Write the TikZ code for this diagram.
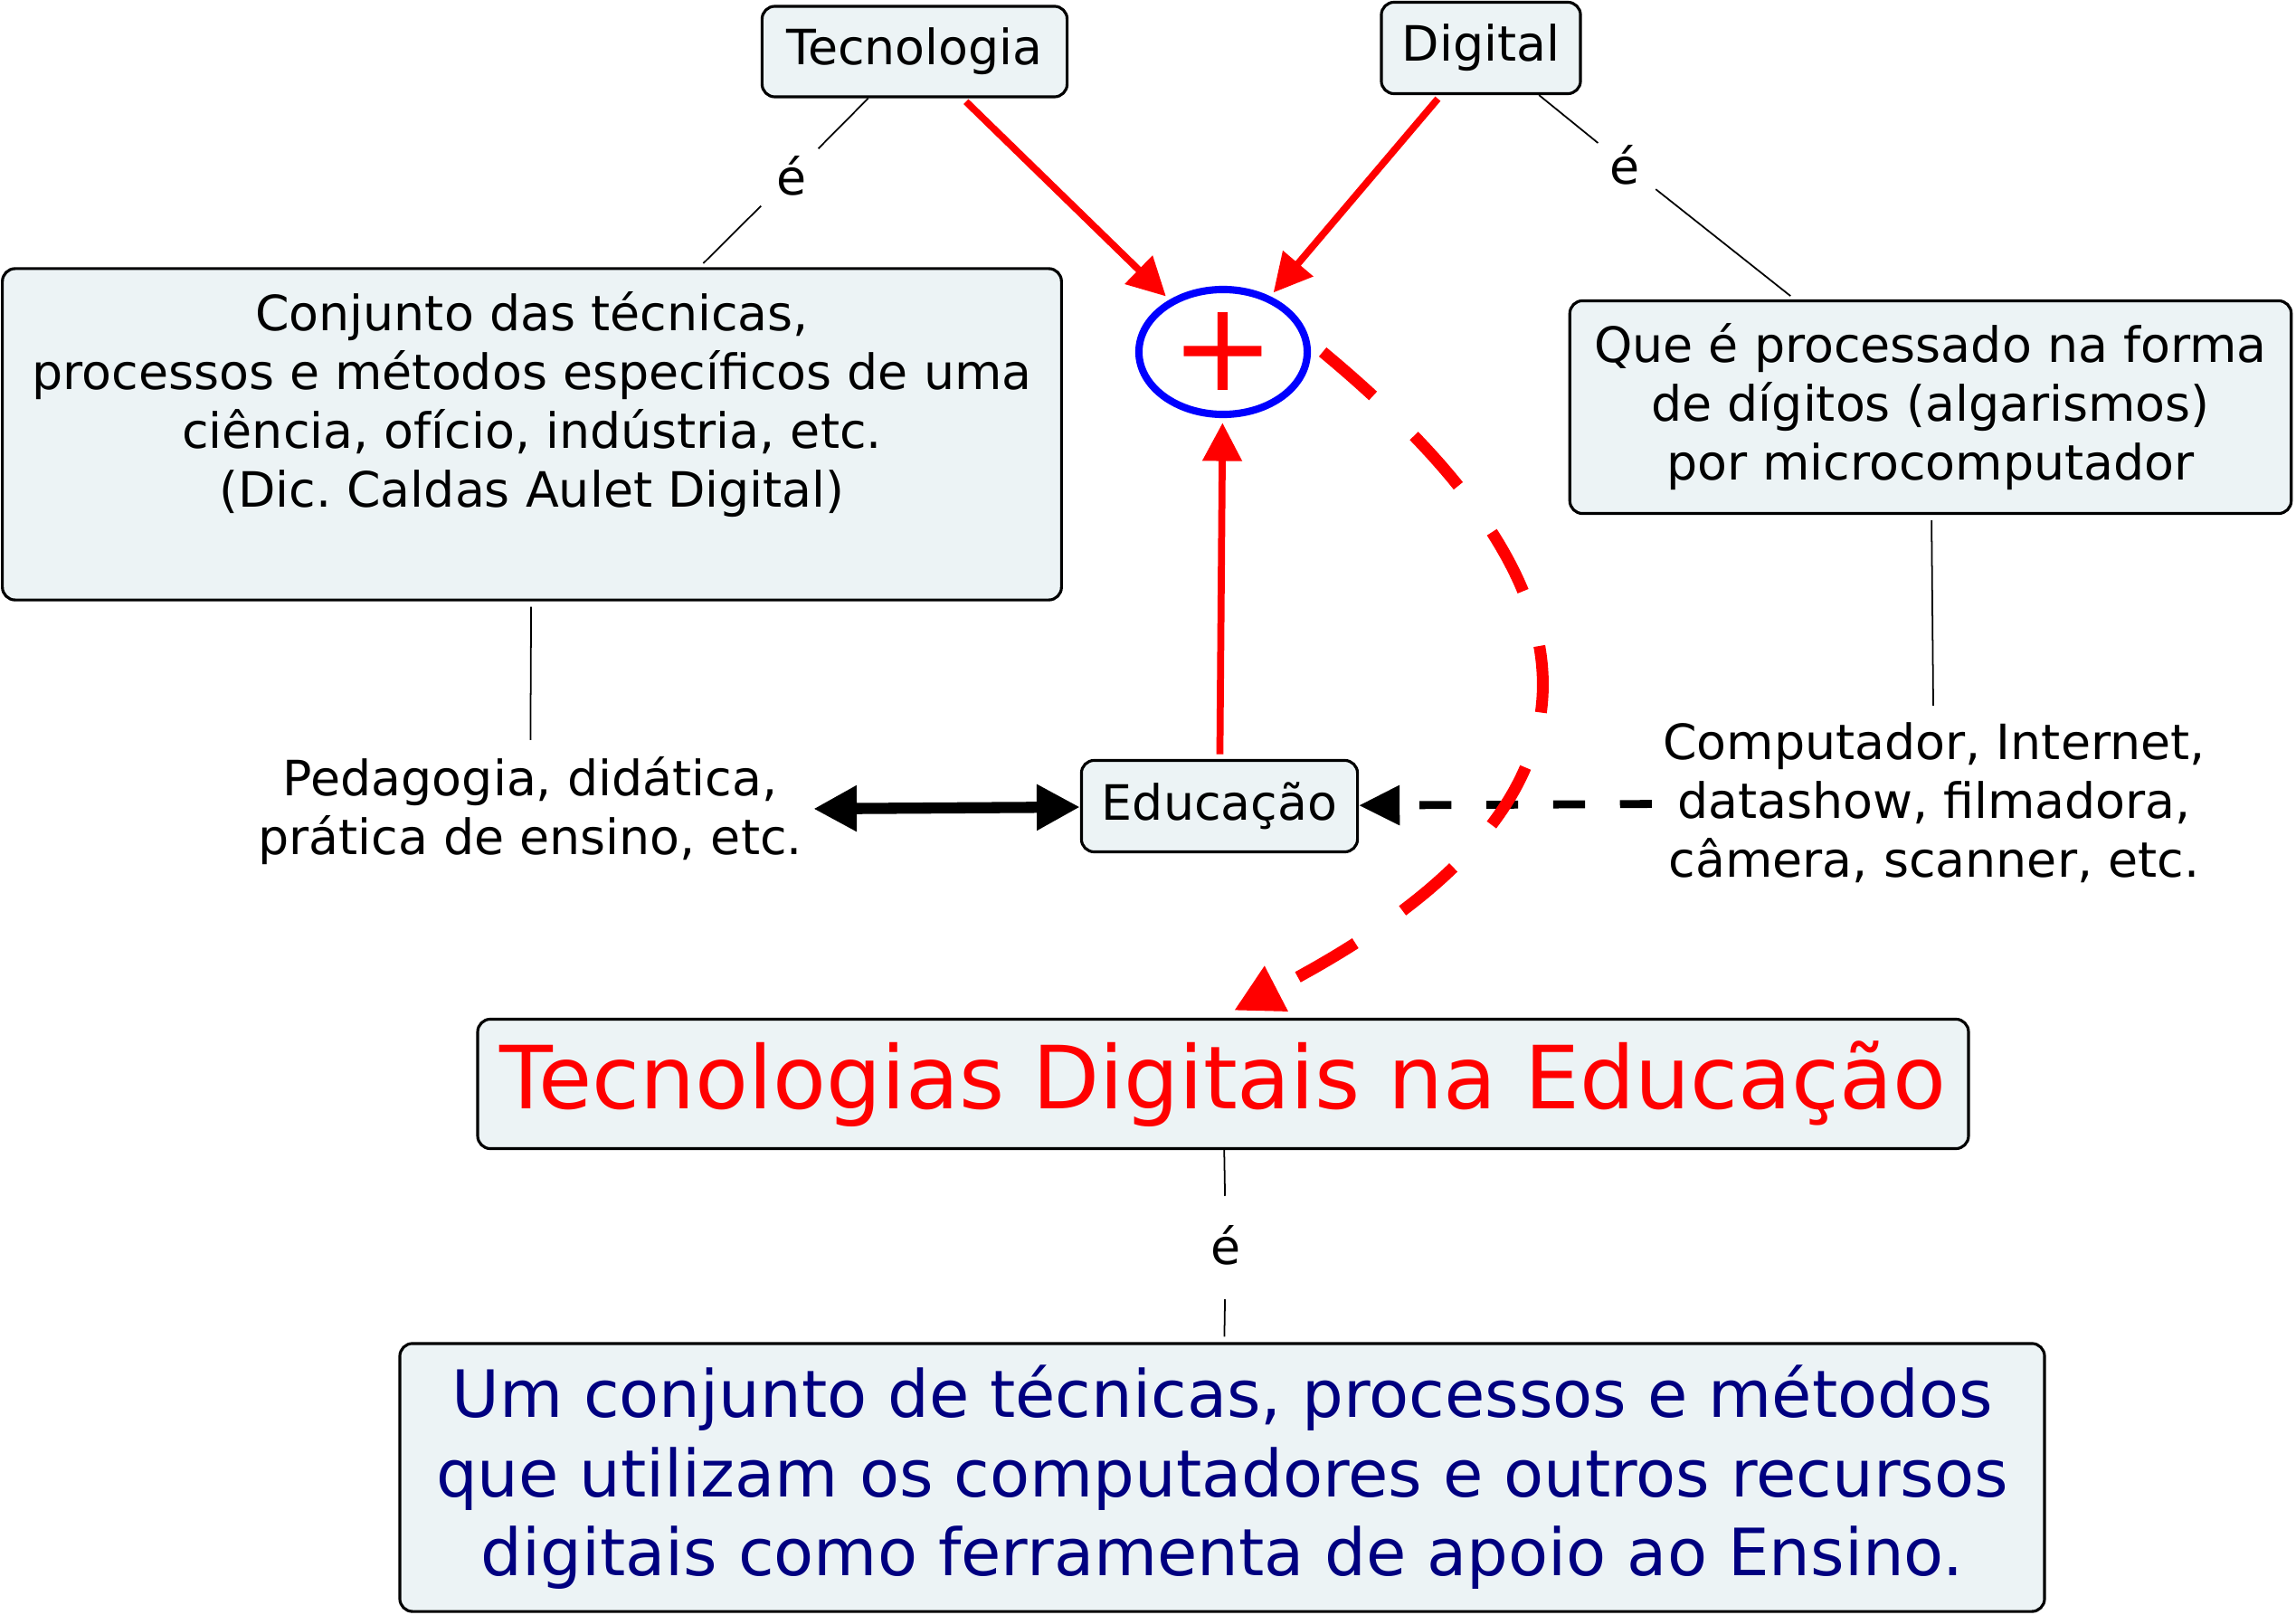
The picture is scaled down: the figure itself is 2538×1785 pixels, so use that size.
\documentclass[tikz,border=0pt]{standalone}
\usepackage{fontspec}
\setmainfont{DejaVu Sans}
\usetikzlibrary{arrows.meta,shapes.geometric}
\definecolor{conceptfill}{RGB}{236,243,245}
\definecolor{navy}{RGB}{0,0,128}
\frenchspacing

\begin{document}
\begin{tikzpicture}[x=0.01cm,y=-0.01cm,
  font=\fontsize{15.3pt}{18.5pt}\selectfont,
  concept/.style={draw,line width=0.9pt,rounded corners=4pt,fill=conceptfill,align=center,inner sep=2pt},
  plain/.style={align=center},
  linkword/.style={inner sep=3.5pt},
  link/.style={line width=0.5pt,shorten <=1.7pt,shorten >=1.7pt},
  redarrow/.style={red,line width=2.2pt,-{Triangle[length=12pt,width=12pt]},shorten <=1.5pt,shorten >=1.5pt},
  flow/.style={red,line width=3.7pt,dash pattern=on 21pt off 18pt,-{Triangle[length=15pt,width=15pt]}},
  twoway/.style={line width=3.5pt,{Triangle[length=13.6pt,width=13.6pt]}-{Triangle[length=13.6pt,width=13.6pt]}},
  hintarrow/.style={line width=2.5pt,dash pattern=on 10pt off 11pt,-{Triangle[length=12.8pt,width=12pt]}}]
\useasboundingbox (0,0) rectangle (2538,1785);

\node[concept,minimum width=3.37cm,minimum height=1cm] (tec) at (1011,57) {Tecnologia};
\node[concept,minimum width=2.2cm,minimum height=1.01cm] (dig) at (1637,53) {Digital};

\node[concept,minimum width=11.7cm,minimum height=3.66cm] (conj) at (588,480)
  {Conjunto das técnicas,\\processos e métodos específicos de uma\\ciência, ofício, indústria, etc.\\(Dic. Caldas Aulet Digital)\\[3.2pt]\mbox{}};
\node[concept,minimum width=7.97cm,minimum height=2.35cm] (que) at (2134,450)
  {Que é processado na forma\\de dígitos (algarismos)\\por microcomputador};

\node[ellipse,draw=blue,line width=2.3pt,minimum width=1.86cm,minimum height=1.38cm,inner sep=0pt,
  text=red,font=\fontsize{39pt}{39pt}\selectfont] (mais) at (1352,389) {+};

\node[plain] (ped) at (586,896) {Pedagogia, didática,\\prática de ensino, etc.};
\node[concept,minimum width=3.05cm,minimum height=1.01cm] (edu) at (1348,891) {Educação};
\node[plain] (comp) at (2138,887) {Computador, Internet,\\datashow, filmadora,\\câmera, scanner, etc.};

\node[concept,minimum width=16.47cm,minimum height=1.43cm,text=red,
  font=\fontsize{27.4pt}{32pt}\selectfont] (tde) at (1352,1198) {Tecnologias Digitais na Educação};
\node[concept,minimum width=18.17cm,minimum height=2.96cm,text=navy,
  font=\fontsize{20.5pt}{24.9pt}\selectfont] (def) at (1351,1633)
  {Um conjunto de técnicas, processos e métodos\\que utilizam os computadores e outros recursos\\digitais como ferramenta de apoio ao Ensino.};

\node[linkword] (e1) at (875,194) {é};
\node[linkword] (e2) at (1796,182) {é};
\node[linkword,inner ysep=9pt] (e3) at (1355,1376) {é};

% ligacoes
\draw[link] (tec) -- (e1) -- (conj);
\draw[link] (dig) -- (e2) -- (que);
\draw[link] (conj) -- (ped);
\draw[link] (que) -- (comp);
\draw[link] (tde) -- (e3) -- (def);

\draw[redarrow] (tec) -- (mais);
\draw[redarrow] (dig) -- (mais);
\draw[redarrow] (edu) -- (mais);

\draw[twoway] (ped) -- (edu);
\draw[hintarrow] (comp) -- (edu);

\draw[flow] ([shift={(13,0)}]mais.east) .. controls (1757,634) and (1834,874) .. ([shift={(12,-8)}]tde.north);
\end{tikzpicture}
\end{document}
